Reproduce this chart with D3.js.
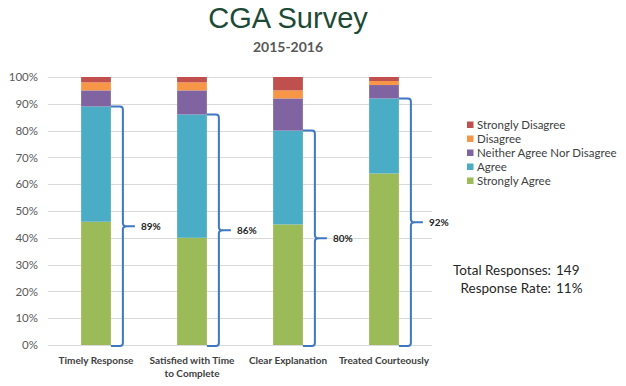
<!DOCTYPE html>
<html><head><meta charset="utf-8">
<script src="https://cdn.jsdelivr.net/npm/d3@7/dist/d3.min.js"></script>
<style>body{margin:0;background:#fff}svg{display:block}</style>
</head><body>
<script>
const categories = [["Timely Response"], ["Satisfied with Time", "to Complete"], ["Clear Explanation"], ["Treated Courteously"]];
const seriesNames = ["Strongly Agree", "Agree", "Neither Agree Nor Disagree", "Disagree", "Strongly Disagree"];
const stronglyAgree = [46, 40, 45, 64];
const agree = [43, 46, 35, 28];
const neither = [6, 9, 12, 5];
const disagree = [3, 3, 3, 1.5];
const stronglyDisagree = [2, 2, 5, 1.5];
const bracketLabels = ["89%", "86%", "80%", "92%"];
const yTicks = [0, 10, 20, 30, 40, 50, 60, 70, 80, 90, 100];
const colors = ["#9BBB59", "#4BACC6", "#8064A2", "#F79646", "#C0504D"];
const title = "CGA Survey", subtitle = "2015-2016";
const infoLabels = ["Total Responses:", "Response Rate:"];
const infoValues = ["149", "11%"];

const W = 626, H = 386;
const svg = d3.select("body").append("svg").attr("width", W).attr("height", H);
const font = "Lato, 'Open Sans', sans-serif";

const keys = categories.map(c => c.join(" "));
const x = d3.scaleBand().domain(keys).range([48, 432]).paddingInner(0.69).paddingOuter(0.345);
const y = d3.scaleLinear().domain([0, 100]).range([345, 77]);

// title
svg.append("text").attr("x", 288).attr("y", 28).attr("text-anchor", "middle")
  .attr("font-family", "'Liberation Sans', Arial, sans-serif").attr("font-size", 29).attr("fill", "#1d4a36").text(title);
svg.append("text").attr("x", 288).attr("y", 52).attr("text-anchor", "middle")
  .attr("font-family", font).attr("font-weight", "bold").attr("font-size", 14).attr("fill", "#595959").text(subtitle);

// grid
svg.append("g").selectAll("line").data(yTicks).join("line")
  .attr("x1", 48).attr("x2", 432).attr("y1", d => Math.round(y(d)) + 0.5).attr("y2", d => Math.round(y(d)) + 0.5)
  .attr("stroke", "#d9d9d9").attr("stroke-width", 1);

// y axis labels
const yAxis = svg.append("g").attr("transform", "translate(44,0)")
  .call(d3.axisLeft(y).tickValues(yTicks).tickFormat(d => d + "%").tickSize(0).tickPadding(6));
yAxis.select(".domain").remove();
yAxis.selectAll("text").attr("font-family", font).attr("font-size", 11.5).attr("fill", "#595959");

// stacked bars
const rows = keys.map((k, i) => ({ key: k, v0: stronglyAgree[i], v1: agree[i], v2: neither[i], v3: disagree[i], v4: stronglyDisagree[i] }));
const stack = d3.stack().keys(["v0", "v1", "v2", "v3", "v4"]);
const stacked = stack(rows);
svg.append("g").selectAll("g").data(stacked).join("g").attr("fill", (d, i) => colors[i])
  .selectAll("rect").data(d => d).join("rect")
  .attr("x", d => x(d.data.key)).attr("width", x.bandwidth())
  .attr("y", d => y(d[1])).attr("height", d => y(d[0]) - y(d[1]));

// braces
const braceG = svg.append("g");
rows.forEach((r, i) => {
  const x0 = x(r.key) + x.bandwidth();
  const yTop = y(r.v0 + r.v1), yBot = y(0) + 1, yMid = (yTop + yBot) / 2;
  const vx = x0 + 12, tip = x0 + 24;
  const p = `M${x0},${yTop} L${vx - 3},${yTop} Q${vx},${yTop} ${vx},${yTop + 3} L${vx},${yMid - 3} Q${vx},${yMid} ${vx + 4},${yMid} L${tip},${yMid}` +
            ` M${vx + 4},${yMid} Q${vx},${yMid} ${vx},${yMid + 3} L${vx},${yBot - 3} Q${vx},${yBot} ${vx - 3},${yBot} L${x0},${yBot}`;
  braceG.append("path").attr("d", p).attr("fill", "none").attr("stroke", "#3f78c0").attr("stroke-width", 2);
  braceG.append("text").attr("x", tip + 6).attr("y", yMid + 3.5)
    .attr("font-family", font).attr("font-weight", "bold").attr("font-size", 10).attr("fill", "#262626").text(bracketLabels[i]);
});

// x labels
const xl = svg.append("g");
categories.forEach((c, i) => {
  const cx = x(keys[i]) + x.bandwidth() / 2;
  c.forEach((line, j) => {
    xl.append("text").attr("x", cx).attr("y", 364 + j * 13).attr("text-anchor", "middle")
      .attr("font-family", font).attr("font-weight", "bold").attr("font-size", 10).attr("fill", "#404040").text(line);
  });
});

// legend
const legendOrder = [4, 3, 2, 1, 0];
const lg = svg.append("g");
legendOrder.forEach((si, j) => {
  const ly = 125 + j * 14;
  lg.append("rect").attr("x", 467).attr("y", ly - 3.5).attr("width", 6.5).attr("height", 6.5).attr("fill", colors[si]);
  lg.append("text").attr("x", 477).attr("y", ly + 4).attr("font-family", font).attr("font-size", 11.5).attr("fill", "#404040").text(seriesNames[si]);
});

// info text
infoLabels.forEach((t, j) => {
  const ty = 275 + j * 18;
  svg.append("text").attr("x", 551).attr("y", ty).attr("text-anchor", "end").attr("font-family", font).attr("font-size", 13.5).attr("fill", "#262626").text(t);
  svg.append("text").attr("x", 556).attr("y", ty).attr("font-family", font).attr("font-size", 13.5).attr("fill", "#262626").text(infoValues[j]);
});
</script>
</body></html>
